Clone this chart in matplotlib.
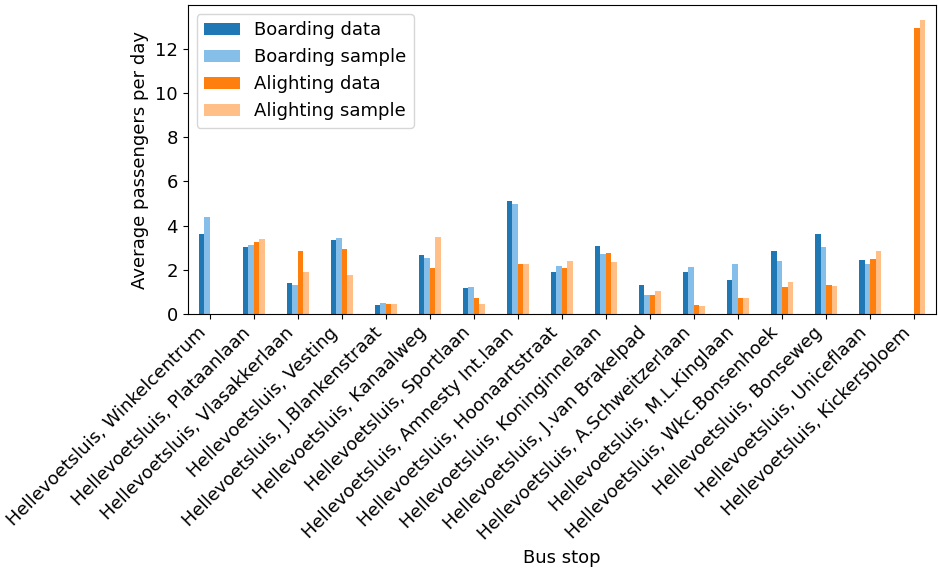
import numpy as np
import pandas as pd
import matplotlib
matplotlib.use('Agg')
import matplotlib.pyplot as plt

stops = ['Hellevoetsluis, Winkelcentrum', 'Hellevoetsluis, Plataanlaan',
         'Hellevoetsluis, Vlasakkerlaan', 'Hellevoetsluis, Vesting',
         'Hellevoetsluis, J.Blankenstraat', 'Hellevoetsluis, Kanaalweg',
         'Hellevoetsluis, Sportlaan', 'Hellevoetsluis, Amnesty Int.laan',
         'Hellevoetsluis, Hoonaartstraat', 'Hellevoetsluis, Koninginnelaan',
         'Hellevoetsluis, J.van Brakelpad', 'Hellevoetsluis, A.Schweitzerlaan',
         'Hellevoetsluis, M.L.Kinglaan', 'Hellevoetsluis, Wkc.Bonsenhoek',
         'Hellevoetsluis, Bonseweg', 'Hellevoetsluis, Uniceflaan',
         'Hellevoetsluis, Kickersbloem']

boarding_data = [3.61, 3.02, 1.38, 3.33, 0.40, 2.65, 1.19, 5.12, 1.91, 3.07,
                 1.33, 1.91, 1.52, 2.87, 3.61, 2.45, 0.0]
boarding_sample = [4.38, 3.11, 1.33, 3.42, 0.51, 2.54, 1.23, 4.97, 2.19, 2.69,
                   0.88, 2.14, 2.24, 2.39, 3.02, 2.28, 0.0]
alighting_data = [0.0, 3.27, 2.83, 2.92, 0.44, 2.06, 0.70, 2.28, 2.10, 2.74,
                  0.88, 0.40, 0.70, 1.23, 1.33, 2.50, 12.95]
alighting_sample = [0.0, 3.37, 1.91, 1.76, 0.44, 3.46, 0.44, 2.24, 2.39, 2.34,
                    1.03, 0.35, 0.70, 1.43, 1.28, 2.84, 13.3]

df = pd.DataFrame({'Boarding data': boarding_data,
                   'Boarding sample': boarding_sample,
                   'Alighting data': alighting_data,
                   'Alighting sample': alighting_sample}, index=stops)

colors = ['#1f77b4', '#85bfe9', '#ff7f0e', '#ffbf86']

plt.rcParams['font.size'] = 13
fig = plt.figure(figsize=(9.38, 5.74), dpi=100)
ax = fig.add_axes([0.200, 0.453, 0.798, 0.538])
df.plot.bar(ax=ax, color=colors, width=0.5)
ax.set_xticklabels(stops, rotation=45, ha='right')
ax.set_xlabel('Bus stop')
ax.set_ylabel('Average passengers per day')
ax.legend(loc='upper left')
fig.savefig('out.png')
